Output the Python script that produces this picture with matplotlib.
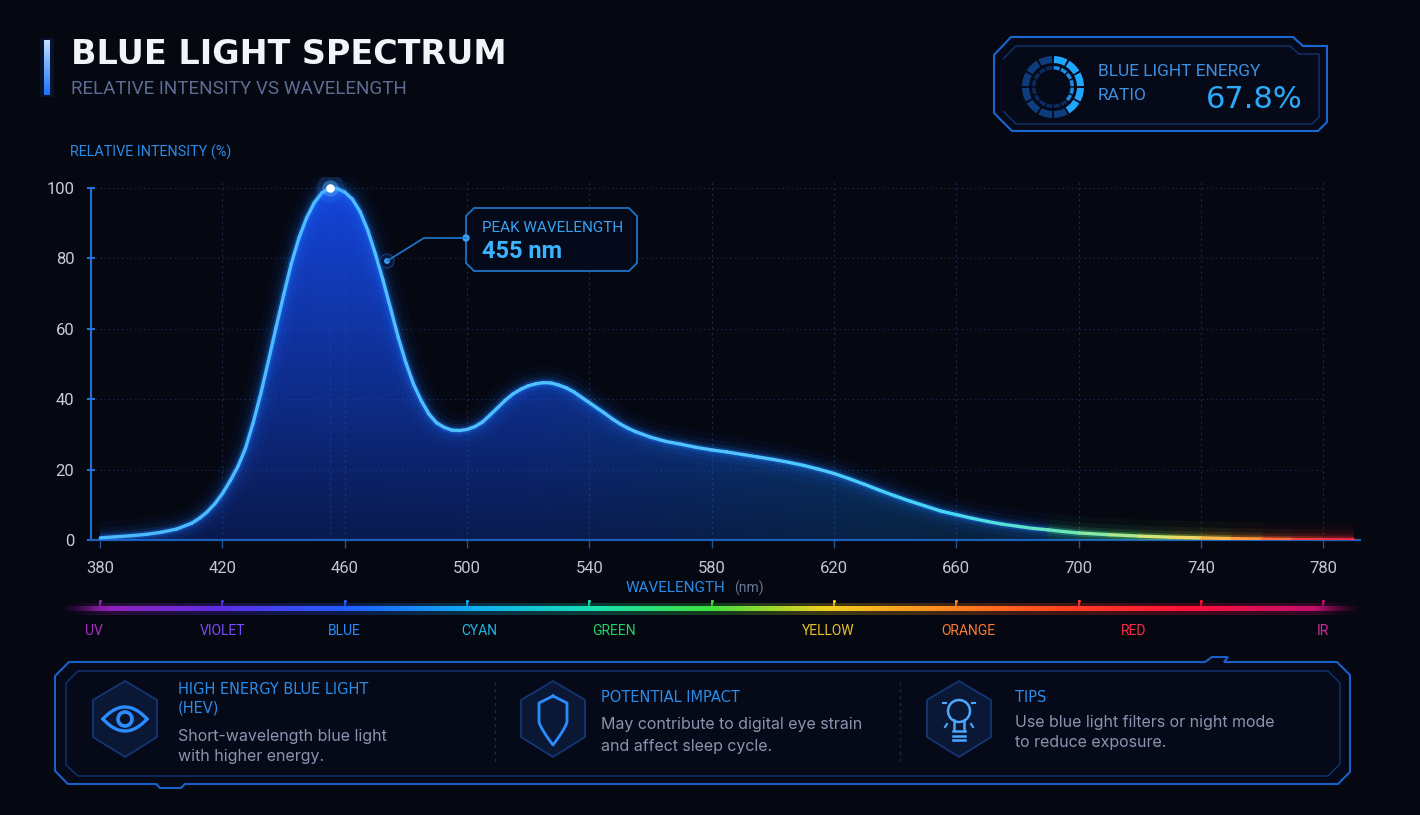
import numpy as np
import matplotlib.pyplot as plt
from matplotlib.collections import LineCollection
from matplotlib.patches import Polygon, Circle, Wedge
from matplotlib.colors import LinearSegmentedColormap

plt.rcParams['font.family'] = ['Roboto', 'DejaVu Sans']

# spectrum (nm -> relative intensity %)
wavelength = [380, 385, 390, 395, 400, 405, 410, 412.5, 415, 417.5, 420, 422.5, 425,
              427.5, 430, 432.5, 435, 437.5, 440, 442.5, 445, 447.5, 450, 452.5, 455,
              457.5, 460, 462.5, 465, 467.5, 470, 472.5, 475, 477.5, 480, 482.5, 485,
              487.5, 490, 492.5, 495, 497.5, 500, 502.5, 505, 507.5, 510, 512.5, 515,
              517.5, 520, 522.5, 525, 527.5, 530, 532.5, 535, 537.5, 540, 542.5, 545,
              547.5, 550, 552.5, 555, 557.5, 560, 565, 570, 575, 580, 585, 590, 595,
              600, 605, 610, 615, 620, 625, 630, 635, 640, 645, 650, 655, 660, 665,
              670, 675, 680, 685, 690, 695, 700, 710, 720, 730, 740, 750, 760, 770,
              780, 790]
intensity = [0.6, 0.9, 1.2, 1.6, 2.2, 3.1, 4.8, 6.2, 8.0, 10.3, 13.2, 16.8, 20.8,
             26, 33.2, 41.5, 50.8, 60.3, 69.6, 78.5, 85.8, 91.5, 95.8, 98.6, 99.9,
             99.8, 98.8, 96.8, 93.3, 88, 81.3, 73.8, 65.7, 57.5, 50.3, 44.2, 39.6,
             35.8, 33.3, 32, 31.2, 31.1, 31.4, 32.2, 33.5, 35.5, 37.6, 39.7, 41.5,
             42.8, 43.8, 44.4, 44.7, 44.6, 44, 43.2, 42, 40.5, 39, 37.5, 36,
             34.4, 33, 31.8, 30.8, 30, 29.2, 28, 27.2, 26.3, 25.6, 25, 24.3, 23.6,
             22.9, 22.1, 21.2, 20.1, 18.9, 17.4, 15.8, 14.1, 12.5, 11, 9.6, 8.2, 7.2, 6.2,
             5.3, 4.5, 3.9, 3.3, 2.9, 2.4, 2.0, 1.5, 1.1, 0.8, 0.6, 0.4, 0.25, 0.12,
             0.05, 0.0]

peak_nm = 455
peak_val = 100
energy_ratio = 67.8

x_ticks = [380, 420, 460, 500, 540, 580, 620, 660, 700, 740, 780]
y_ticks = [0, 20, 40, 60, 80, 100]

band_names = ["UV", "VIOLET", "BLUE", "CYAN", "GREEN", "YELLOW", "ORANGE", "RED", "IR"]
band_pos = [378, 420, 460, 504, 548, 618, 664, 718, 780]
band_colors = ["#b02cc8", "#7a4cff", "#2a8cff", "#22b6e6", "#22d266",
               "#e8c22a", "#ff7a30", "#ff2a44", "#d0309c"]

card_titles = [["HIGH ENERGY BLUE LIGHT", "(HEV)"], ["POTENTIAL IMPACT"], ["TIPS"]]
card_texts = [["Short-wavelength blue light", "with higher energy."],
              ["May contribute to digital eye strain", "and affect sleep cycle."],
              ["Use blue light filters or night mode", "to reduce exposure."]]

W, H = 1420, 815
BG = "#050711"
fig = plt.figure(figsize=(W / 100, H / 100), dpi=100)
fig.patch.set_facecolor(BG)

# pixel overlays behind and in front of the chart
ax_bg = fig.add_axes([0, 0, 1, 1], zorder=0)
ax_top = fig.add_axes([0, 0, 1, 1], zorder=3)
for a in (ax_bg, ax_top):
    a.set_axis_off()
    a.patch.set_alpha(0)
    a.set_autoscale_on(False)
    a.set_xlim(0, W)
    a.set_ylim(H, 0)

ax = fig.add_axes([91 / W, 1 - 540 / H, 1269 / W, 362.6 / H], zorder=1)
ax.set_facecolor("none")
x0, x1 = 377, 792

# grid
ax.hlines(y_ticks[1:], x0, 780, colors="#1a2c52", linestyles=(0, (1, 2.5)), lw=0.9, zorder=1)
ax.vlines(x_ticks[1:] + [peak_nm], 0, 102.5, colors="#1c2a48", linestyles=(0, (2, 3)),
          lw=0.8, zorder=1)

# filled area with gradient
wl = np.array(wavelength, float)
iv = np.array(intensity, float)
poly = ax.fill_between(wl, 0, iv, facecolor="none", edgecolor="none")
nx, ny = 300, 200
gx = np.linspace(x0, x1, nx)
gy = np.linspace(0, 100, ny)
stops = [377, 520, 640, 720, 792]
img = np.zeros((ny, nx, 4))
img[..., 0] = (np.interp(gx, stops, [22, 22, 16, 10, 10]) / 255)[None, :]
img[..., 1] = (np.interp(gx, stops, [72, 78, 105, 95, 80]) / 255)[None, :]
img[..., 2] = (np.interp(gx, stops, [235, 240, 200, 135, 100]) / 255)[None, :]
img[..., 3] = (0.28 + 0.64 * gy / 100)[:, None]
im = ax.imshow(img, extent=[x0, x1, 0, 100], origin="lower", aspect="auto", zorder=2)
im.set_clip_path(poly.get_paths()[0], transform=ax.transData)

# glowing spectrum line: blue glow as one path, coloured glow only on the flat red tail
span = x1 - x0
core_cmap = LinearSegmentedColormap.from_list("core", [
    (0.0, "#4cb8ff"), ((600 - x0) / span, "#52c4ff"), ((660 - x0) / span, "#46d8f2"),
    ((700 - x0) / span, "#70e8b4"), ((730 - x0) / span, "#e6e66e"),
    ((755 - x0) / span, "#ffa040"), ((775 - x0) / span, "#ff4040"), (1.0, "#ff2050")])
glow_cmap = LinearSegmentedColormap.from_list("glow", [
    (0.0, "#1a78ff"), ((620 - x0) / span, "#1a8cff"), ((680 - x0) / span, "#18b8d8"),
    ((720 - x0) / span, "#60d860"), ((745 - x0) / span, "#e0c030"),
    ((770 - x0) / span, "#ff5020"), (1.0, "#ff2040")])
head = wl <= 690
glow_layers = [(24, 0.04), (15, 0.07), (9, 0.13), (5, 0.3)]
for lw, al in glow_layers:
    ax.plot(wl[head], iv[head], color="#1a78ff", lw=lw, alpha=al,
            solid_capstyle="butt", solid_joinstyle="round", zorder=3)
tail = wl >= 690
tp = np.column_stack([wl[tail], iv[tail]])
tsegs = np.stack([tp[:-1], tp[1:]], axis=1)
tmid = (tp[:-1, 0] + tp[1:, 0]) / 2
for lw, al in glow_layers:
    ax.add_collection(LineCollection(tsegs, colors=glow_cmap((tmid - x0) / span),
                                     linewidths=lw, alpha=al, capstyle="butt", zorder=3))
pts = np.column_stack([wl, iv])
segs = np.stack([pts[:-1], pts[1:]], axis=1)
mid = (wl[:-1] + wl[1:]) / 2
ax.add_collection(LineCollection(segs, colors=core_cmap((mid - x0) / span), linewidths=2.4,
                                 capstyle="round", joinstyle="round", zorder=4))

# peak marker
ax.scatter([peak_nm], [peak_val], s=420, color="#2a8cff", alpha=0.18, lw=0, zorder=5)
ax.scatter([peak_nm], [peak_val], s=140, color="#58b8ff", alpha=0.4, lw=0, zorder=5)
ax.scatter([peak_nm], [peak_val], s=38, color="white", lw=0, zorder=6)

# axes styling
ax.set_xlim(x0, x1)
ax.set_ylim(0, 103)
for s in ["top", "right"]:
    ax.spines[s].set_visible(False)
ax.spines["left"].set_color("#1e72d8")
ax.spines["left"].set_linewidth(1.5)
ax.spines["left"].set_bounds(0, 100)
ax.spines["bottom"].set_color("#1c5fb8")
ax.spines["bottom"].set_linewidth(1.6)
ax.set_xticks(x_ticks)
ax.set_yticks(y_ticks)
ax.tick_params(axis="y", direction="inout", length=6, width=1.4, color="#1e78e0",
               labelcolor="#c5cbd8", labelsize=12, pad=9)
ax.tick_params(axis="x", direction="out", length=6, width=1, color="#24508f",
               labelcolor="#c0c6d4", labelsize=12, pad=9)

# spectrum bar under the axis
b0, b1 = 366, 794
bspan = b1 - b0
bar_cmap = LinearSegmentedColormap.from_list("spec", [
    (0.0, "#3a0a50"), ((377.4 - b0) / bspan, "#9a22b4"), ((420 - b0) / bspan, "#5a30e8"),
    ((461 - b0) / bspan, "#2060ff"), ((503.6 - b0) / bspan, "#12b0f0"),
    ((541.6 - b0) / bspan, "#18e0b0"), ((579.5 - b0) / bspan, "#40e040"),
    ((617.8 - b0) / bspan, "#f0d020"), ((655.7 - b0) / bspan, "#ff8a20"),
    ((694.6 - b0) / bspan, "#ff4422"), ((736.5 - b0) / bspan, "#ff1038"),
    ((780.3 - b0) / bspan, "#c01070"), (1.0, "#40082a")])
bx = np.linspace(0, 1, 600)
bar = bar_cmap(bx)[None, :, :]
fade = np.clip(np.minimum(bx / 0.04, (1 - bx) / 0.04), 0, 1)
bar_img = bar.copy()
bar_img[..., 3] = fade
glow_img = bar.copy()
glow_img[..., 3] = fade * 0.25
g = ax.imshow(glow_img, extent=[b0, b1, -21.2, -17.8], aspect="auto", zorder=2)
g.set_clip_on(False)
b = ax.imshow(bar_img, extent=[b0, b1, -20.2, -18.8], aspect="auto", zorder=3)
b.set_clip_on(False)
for t in x_ticks:
    c = bar_cmap((t - b0) / bspan)
    ax.plot([t, t], [-18.6, -17.4], color=c, lw=1.2, clip_on=False, zorder=3)
    ax.plot([t], [-17.3], marker="o", ms=2.2, color=c, mew=0, clip_on=False, zorder=3)
for name, p, c in zip(band_names, band_pos, band_colors):
    ax.text(p, -25.9, name, color=c, fontsize=10, ha="center", va="center", clip_on=False)

# titles
bar_grad = np.zeros((60, 1, 4))
bar_grad[..., 0] = np.linspace(0.75, 0.1, 60)[:, None]
bar_grad[..., 1] = np.linspace(0.88, 0.45, 60)[:, None]
bar_grad[..., 2] = 1.0
bar_grad[..., 3] = 1.0
ax_bg.imshow(bar_grad, extent=[44, 50, 95, 40], aspect="auto", zorder=2)
ax_bg.add_patch(Polygon([(40, 38), (54, 38), (54, 97), (40, 97)], closed=True,
                        facecolor="#1a6cff", alpha=0.12, lw=0))
ax_bg.text(71, 55, "BLUE LIGHT SPECTRUM", color="#f2f4f8", fontsize=24,
           fontweight="bold", family="DejaVu Sans", ha="left", va="center")
ax_bg.text(71, 89, "RELATIVE INTENSITY VS WAVELENGTH", color="#5d6c92", fontsize=13.6,
           ha="left", va="center")
ax_bg.text(70, 152, "RELATIVE INTENSITY (%)", color="#2a8ce8", fontsize=10.4,
           ha="left", va="center")
ax_bg.text(626, 588, "WAVELENGTH", color="#2a8ce8", fontsize=11, ha="left", va="center")
ax_bg.text(734, 588, "(nm)", color="#6a7696", fontsize=10, ha="left", va="center")

# peak annotation
ax_top.add_patch(Polygon([(474, 208), (629, 208), (637, 216), (637, 263), (629, 271),
                          (474, 271), (466, 263), (466, 216)], closed=True,
                         facecolor="#060b1c", edgecolor="#1f78d0", lw=1.3, alpha=0.95))
ax_top.plot([387, 424, 466], [261, 238, 238], color="#1f78d0", lw=1.2)
ax_top.add_patch(Circle((387, 261), 7, facecolor="#0a1a40", edgecolor="#163e7a", lw=1, alpha=0.8))
ax_top.add_patch(Circle((387, 261), 2.2, color="#3aa2f0"))
ax_top.add_patch(Circle((466, 238), 3, color="#3aa2f0"))
ax_top.text(482, 228, "PEAK WAVELENGTH", color="#3aa2f0", fontsize=11, ha="left", va="center")
ax_top.text(482, 252, f"{peak_nm} nm", color="#3ab4ff", fontsize=17, fontweight="bold",
            ha="left", va="center")

# energy ratio card
ax_top.add_patch(Polygon([(994, 55), (1011, 37), (1293, 37), (1303, 46), (1327, 46),
                          (1327, 122), (1318, 131), (1012, 131), (994, 113)], closed=True,
                         facecolor="#060a18", edgecolor="#1a66d0", lw=1.5))
ax_top.add_patch(Polygon([(1003, 59), (1016, 46), (1290, 46), (1299, 54), (1319, 54),
                          (1319, 117), (1312, 124), (1016, 124), (1003, 111)], closed=False,
                         facecolor="none", edgecolor="#10356e", lw=1))
gc = (1053, 87)
lit = 5
for i in range(12):
    t1 = -90 + i * 30 + 2
    ax_top.add_patch(Wedge(gc, 31, t1, t1 + 26, width=7,
                           facecolor="#1fa6ff" if i < lit else "#0e3d7e", lw=0))
for i in range(16):
    t1 = -90 + i * 22.5 + 2
    ax_top.add_patch(Wedge(gc, 21, t1, t1 + 18, width=3.5,
                           facecolor="#1a8ee4" if i < 6 else "#0b2c62", lw=0))
ax_top.text(1098, 72, "BLUE LIGHT ENERGY", color="#3d8fe0", fontsize=12.5, ha="left", va="center")
ax_top.text(1098, 95, "RATIO", color="#3d8fe0", fontsize=12.5, ha="left", va="center")
ax_top.text(1303, 100, f"{energy_ratio}%", color="#2aaaf8", fontsize=22, family="DejaVu Sans",
            ha="right", va="center")

# bottom info panel
ax_bg.add_patch(Polygon([(55, 676), (69, 662), (1205, 662), (1212, 657), (1228, 657),
                         (1224, 662), (1337, 662), (1350, 675), (1350, 772), (1338, 784),
                         (185, 784), (181, 788), (160, 788), (156, 784), (68, 784),
                         (55, 771)], closed=True, facecolor="#060a18", edgecolor="#1a5fc8", lw=1.5))
ax_bg.add_patch(Polygon([(66, 683), (78, 671), (1328, 671), (1340, 683), (1340, 764),
                         (1328, 776), (78, 776), (66, 765)], closed=True,
                        facecolor="none", edgecolor="#0f3474", lw=1))
for sx in (495, 900):
    ax_bg.plot([sx, sx], [682, 764], color="#1c2c50", lw=1, ls=(0, (2, 3)))

icon_x = [125, 553, 959]
for cx in icon_x:
    cy = 719
    ax_bg.add_patch(Polygon([(cx, cy - 38), (cx + 32, cy - 19), (cx + 32, cy + 18),
                             (cx, cy + 38), (cx - 32, cy + 18), (cx - 32, cy - 19)],
                            closed=True, facecolor="#0a1836", edgecolor="#13397a", lw=1.2))
ic = "#2a8cff"
# eye
u = np.linspace(-1, 1, 60)
ax_bg.plot(125 + 22 * u, 719 - 12 * (1 - u ** 2), color=ic, lw=2.4)
ax_bg.plot(125 + 22 * u, 719 + 12 * (1 - u ** 2), color=ic, lw=2.4)
ax_bg.add_patch(Circle((125, 719), 7, facecolor="#081226", edgecolor=ic, lw=2.6))
# shield
t = np.linspace(0, 1, 30)
rx = 567 - 14 * t
ry = 722 + 23 * t ** 0.8
shield_x = [553, 567, 567] + list(rx) + list((2 * 553 - rx)[::-1]) + [539, 539, 553]
shield_y = [696, 703, 722] + list(ry) + list(ry[::-1]) + [722, 703, 696]
ax_bg.plot(shield_x, shield_y, color=ic, lw=2, solid_joinstyle="round")
# bulb
ax_bg.add_patch(Circle((959, 711), 11, facecolor="none", edgecolor="#4aa8ff", lw=1.8))
ax_bg.plot([954, 954], [720, 729], color="#4aa8ff", lw=1.8)
ax_bg.plot([964, 964], [720, 729], color="#4aa8ff", lw=1.8)
for yy in (731, 735.5, 740):
    ax_bg.plot([953, 965], [yy, yy], color="#4aa8ff", lw=1.8)
for (xa, ya, xb, yb) in [(943, 703, 946, 703), (972, 703, 975, 703),
                         (947, 724, 945, 727), (971, 724, 973, 727)]:
    ax_bg.plot([xa, xb], [ya, yb], color="#4aa8ff", lw=1.5)

title_pos = [(178, 690), (601, 697), (1015, 697)]
text_pos = [(178, 736), (601, 725), (1015, 722)]
for k in range(3):
    tx, ty = title_pos[k]
    for j, line in enumerate(card_titles[k]):
        ax_bg.text(tx, ty + j * 18, line, color="#2a8ce8", fontsize=10.5, family="DejaVu Sans",
                   ha="left", va="center")
    px, py = text_pos[k]
    for j, line in enumerate(card_texts[k]):
        ax_bg.text(px, py + j * 21, line, color="#8a94ae", fontsize=11.5, family="Inter",
                   ha="left", va="center")

fig.savefig("out.png", dpi=100, facecolor=BG)
